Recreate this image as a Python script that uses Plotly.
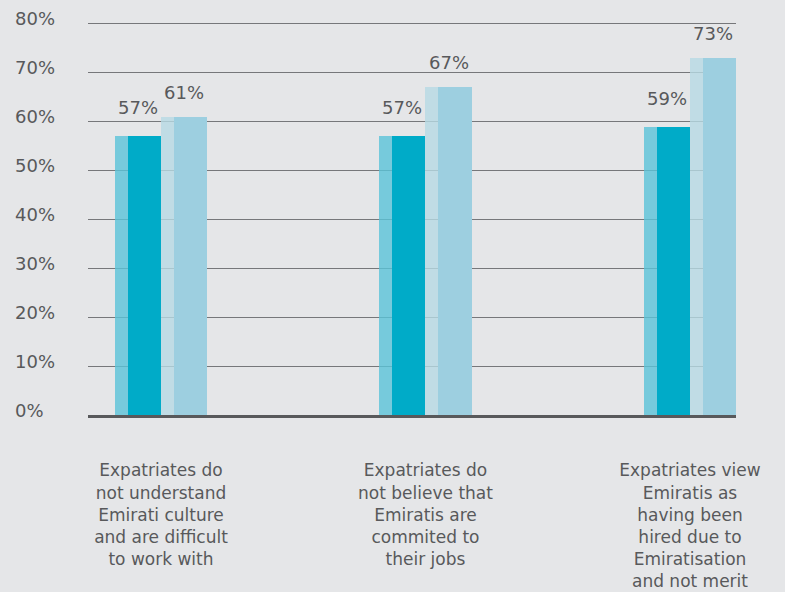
import plotly.graph_objects as go

categories = [
    "Expatriates do<br>not understand<br>Emirati culture<br>and are difficult<br>to work with",
    "Expatriates do<br>not believe that<br>Emiratis are<br>commited to<br>their jobs",
    "Expatriates view<br>Emiratis as<br>having been<br>hired due to<br>Emiratisation<br>and not merit",
]
series_a = [57, 57, 59]
series_b = [61, 67, 73]
tick_values = [0, 10, 20, 30, 40, 50, 60, 70, 80]
tick_labels = ["0%", "10%", "20%", "30%", "40%", "50%", "60%", "70%", "80%"]

BG = "#e5e6e8"
TXT = "#58595b"
FONT = "DejaVu Sans"

x = list(range(len(categories)))
strip_w = 0.049
main_w = 0.125

fig = go.Figure()
# series A: side strip + front face
fig.add_trace(go.Bar(x=x, y=series_a, offset=-(strip_w + main_w), width=strip_w,
                     marker=dict(color="rgba(90,195,216,0.8)", line=dict(width=0)),
                     hoverinfo="skip", showlegend=False))
fig.add_trace(go.Bar(x=x, y=series_a, offset=-main_w, width=main_w,
                     marker=dict(color="#00abc8", line=dict(width=0)),
                     showlegend=False))
# series B
fig.add_trace(go.Bar(x=x, y=series_b, offset=0, width=strip_w,
                     marker=dict(color="rgba(183,218,228,0.8)", line=dict(width=0)),
                     hoverinfo="skip", showlegend=False))
fig.add_trace(go.Bar(x=x, y=series_b, offset=strip_w, width=main_w,
                     marker=dict(color="#9dcfe0", line=dict(width=0)),
                     showlegend=False))

annotations = []
half = (strip_w + main_w) / 2
for i, (a, b) in enumerate(zip(series_a, series_b)):
    annotations.append(dict(x=i - half, y=a, text=f"{a}%", showarrow=False,
                            yanchor="bottom", yshift=16,
                            font=dict(family=FONT, size=18, color=TXT)))
    annotations.append(dict(x=i + half, y=b, text=f"{b}%", showarrow=False,
                            yanchor="bottom", yshift=12,
                            font=dict(family=FONT, size=18, color=TXT)))
for v, t in zip(tick_values, tick_labels):
    annotations.append(dict(xref="paper", x=-0.116, xanchor="left", y=v, yanchor="middle",
                            yshift=5, text=t, showarrow=False,
                            font=dict(family=FONT, size=18, color=TXT)))

fig.update_layout(
    width=785, height=592,
    margin=dict(l=88, r=49, t=19, b=177, autoexpand=False),
    paper_bgcolor=BG, plot_bgcolor=BG,
    barmode="overlay",
    bargap=0,
    annotations=annotations,
    font=dict(family=FONT, color=TXT),
    xaxis=dict(range=[-0.276, 2.174], tickvals=x, ticktext=categories,
               showgrid=False, zeroline=False, showline=True, linecolor="#58595b",
               linewidth=3, ticks="", ticklabelstandoff=38, automargin=False,
               tickfont=dict(family=FONT, size=17, color=TXT)),
    yaxis=dict(range=[0, 81], tickvals=tick_values, showticklabels=False,
               showgrid=True, gridcolor="#76777a", gridwidth=1, zeroline=False,
               showline=False, automargin=False),
)

fig.write_html("out.html", config={"displayModeBar": False},
               post_script="document.body.style.margin='0';document.body.style.overflow='hidden';")
